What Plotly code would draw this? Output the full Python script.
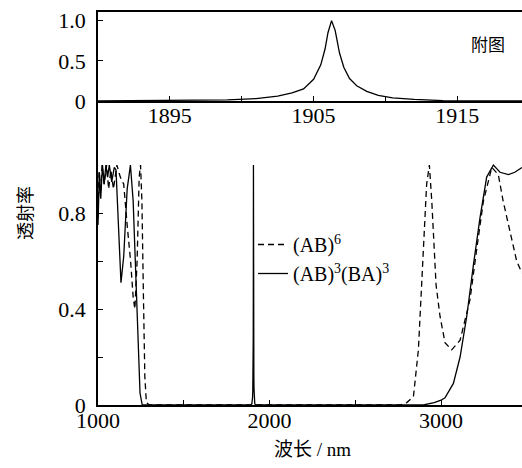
import plotly.graph_objects as go

# ---- data ----
# (AB)^6, dashed
ab6_wl = [1000, 1006, 1014, 1024, 1036, 1050, 1062, 1075, 1090, 1110, 1130, 1150, 1170, 1190,
          1205, 1215, 1228, 1240, 1248, 1256, 1265, 1273, 1282, 1300,
          2700, 2761, 2800, 2839, 2868, 2897, 2916, 2932, 2946, 2971, 2994, 3023, 3062,
          3111, 3169, 3208, 3247, 3296, 3334, 3362, 3402, 3441, 3472]
ab6_t = [0.78, 0.97, 0.88, 1.0, 0.92, 1.0, 0.9, 0.98, 0.9, 1.0, 0.95, 0.92, 0.75, 0.6,
         0.45, 0.4, 0.6, 0.95, 1.0, 0.85, 0.45, 0.12, 0.01, 0.0,
         0.0, 0.0, 0.01, 0.035, 0.23, 0.65, 0.92, 1.0, 0.85, 0.5, 0.37, 0.26, 0.23,
         0.27, 0.44, 0.65, 0.85, 0.99, 0.96, 0.85, 0.72, 0.6, 0.55]

# (AB)^3(BA)^3, solid (left band, right band)
sym_left_wl = [1000, 1008, 1016, 1026, 1036, 1046, 1056, 1066, 1080, 1095, 1105, 1120, 1134,
               1150, 1170, 1189, 1205, 1220, 1226, 1235, 1245, 1258, 1300]
sym_left_t = [0.75, 0.97, 0.86, 1.0, 0.92, 1.0, 0.95, 1.0, 0.93, 0.99, 0.98, 0.75, 0.51,
              0.62, 0.9, 1.0, 0.85, 0.55, 0.41, 0.2, 0.05, 0.0, 0.0]
sym_right_wl = [1920, 2897, 2960, 3000, 3023, 3072, 3111, 3150, 3188, 3227, 3266, 3305,
                3344, 3393, 3430, 3472]
sym_right_t = [0.0, 0.0, 0.01, 0.02, 0.03, 0.09, 0.2, 0.37, 0.58, 0.78, 0.95, 1.0,
               0.97, 0.96, 0.97, 0.99]

# inset: defect-mode peak
inset_wl = [1890, 1897, 1899, 1901, 1902.5, 1903.5, 1904.3, 1905.0, 1905.5, 1905.8, 1906.0,
            1906.25, 1906.5, 1906.8, 1907.1, 1907.5, 1908.0, 1908.7, 1909.5, 1910.5, 1912,
            1914, 1920]
inset_t = [0.0, 0.005, 0.015, 0.03, 0.06, 0.10, 0.15, 0.27, 0.45, 0.65, 0.85,
           1.0, 0.88, 0.6, 0.42, 0.28, 0.19, 0.12, 0.07, 0.04, 0.02,
           0.005, 0.0]

main_xticks = [1000, 1500, 2000, 2500, 3000]
main_xlabels = ["1000", "", "2000", "", "3000"]
main_yticks = [0, 0.2, 0.4, 0.6, 0.8]
main_ylabels = ["0", "", "0.4", "", "0.8"]
inset_xticks = [1895, 1900, 1905, 1910, 1915]
inset_xlabels = ["1895", "", "1905", "", "1915"]
inset_yticks = [0, 0.5, 1.0]
inset_ylabels = ["0", "0.5", "1.0"]

name_ab6 = "(AB)<sup>6</sup>"
name_sym = "(AB)<sup>3</sup>(BA)<sup>3</sup>"

sym_wl = sym_left_wl + inset_wl + sym_right_wl
sym_t = sym_left_t + inset_t + sym_right_t

SERIF = "Liberation Serif"
CJK = "Noto Sans CJK SC"

fig = go.Figure()
fig.add_trace(go.Scatter(x=ab6_wl, y=ab6_t, mode="lines", name=name_ab6,
                         line=dict(color="black", width=1.3, dash="6px,4px"),
                         xaxis="x", yaxis="y"))
fig.add_trace(go.Scatter(x=sym_wl, y=sym_t, mode="lines", name=name_sym,
                         line=dict(color="black", width=1.3),
                         xaxis="x", yaxis="y"))
fig.add_trace(go.Scatter(x=inset_wl, y=inset_t, mode="lines", showlegend=False,
                         line=dict(color="black", width=1.3),
                         xaxis="x2", yaxis="y2"))

H_TOP, H_BOT = 12, 405
PH = H_BOT - H_TOP
PW = 424
split = (405 - 101) / PH

axis_common = dict(showgrid=False, zeroline=False, showline=True, linecolor="black",
                   linewidth=1.5, ticks="inside", ticklen=5, tickwidth=1.2,
                   tickcolor="black", tickfont=dict(family=SERIF, size=22, color="black"))


def px_x(p):
    return (p - 98) / PW


def px_y(p):
    return (H_BOT - p) / PH


fig.update_layout(
    width=522, height=468,
    margin=dict(l=98, r=0, t=H_TOP, b=468 - H_BOT, autoexpand=False),
    plot_bgcolor="white", paper_bgcolor="white",
    xaxis=dict(domain=[0, 1], range=[1000, 3472], anchor="y",
               tickvals=main_xticks, ticktext=main_xlabels, ticklabelstandoff=-5,
               **axis_common),
    yaxis=dict(domain=[0, split], range=[0, 1.267], anchor="x",
               tickvals=main_yticks, ticktext=main_ylabels, ticklabelstandoff=6,
               **axis_common),
    xaxis2=dict(domain=[0, 1], range=[1890, 1919.5], anchor="y2", mirror=True,
                tickvals=inset_xticks, ticktext=inset_xlabels, ticklabelstandoff=-6,
                **axis_common),
    yaxis2=dict(domain=[split, 1], range=[0, 1.108], anchor="x2",
                tickvals=inset_yticks, ticktext=inset_ylabels, ticklabelstandoff=6,
                **axis_common),
    legend=dict(x=px_x(253), y=px_y(225), xanchor="left", yanchor="top",
                bgcolor="rgba(0,0,0,0)", font=dict(family=SERIF, size=20, color="black"),
                tracegroupgap=0),
    showlegend=True,
    annotations=[
        dict(text="附图", x=px_x(488), y=px_y(44), xref="paper", yref="paper",
             xanchor="center", yanchor="middle",
             showarrow=False, font=dict(family=CJK, size=17, color="black")),
        dict(text="透射率", textangle=-90, x=px_x(24), y=px_y(213),
             xref="paper", yref="paper", xanchor="center", yanchor="middle",
             showarrow=False, font=dict(family=CJK, size=18, color="black")),
        dict(text="波长<span style='font-family:Liberation Serif'> / nm</span>",
             x=px_x(312), y=px_y(448), xref="paper", yref="paper",
             xanchor="center", yanchor="middle",
             showarrow=False, font=dict(family=CJK, size=19, color="black")),
    ],
)

fig.write_html("out.html", config={"displayModeBar": False},
               post_script="document.body.style.margin='0';document.body.style.overflow='hidden';")
